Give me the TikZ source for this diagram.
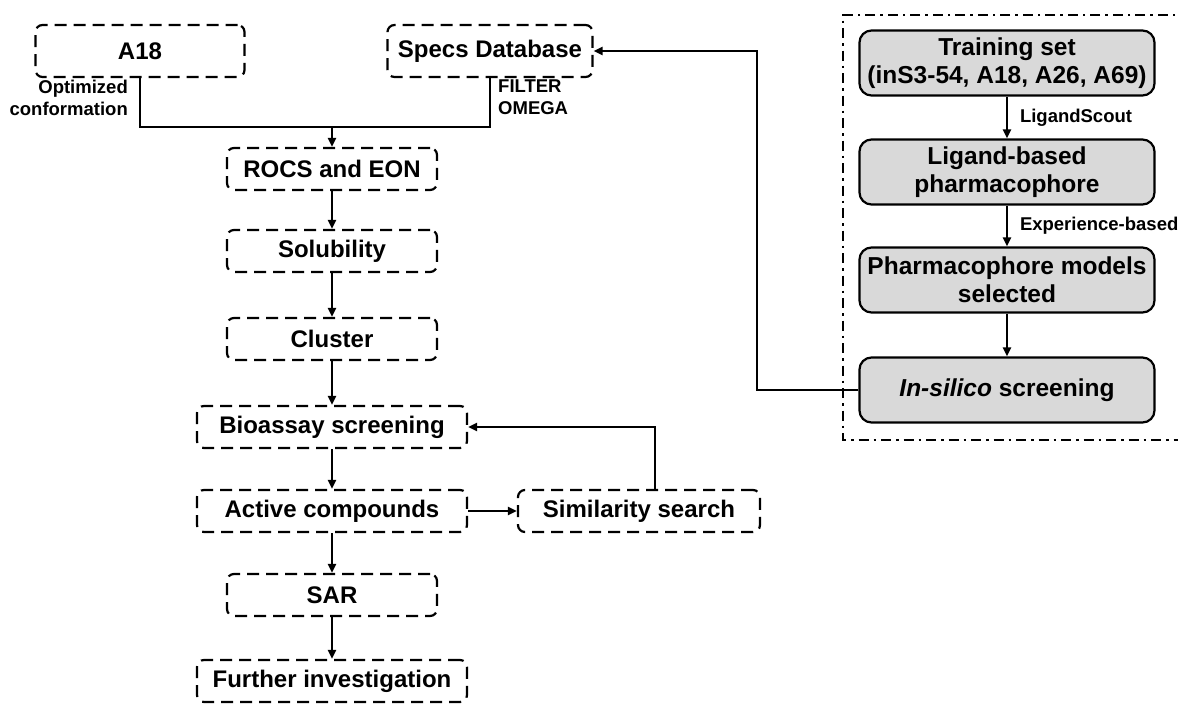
\documentclass[tikz,border=0pt]{standalone}
\usepackage{fontspec}
\setmainfont{Liberation Sans}
\usetikzlibrary{arrows.meta, positioning}

\begin{document}
\begin{tikzpicture}[
    x=1pt, y=-1pt,
    dbox/.style={draw, dash pattern=on 12pt off 7pt, line width=2.2pt, rounded corners=7pt, minimum height=42pt, inner sep=2pt, font=\fontsize{24}{28}\selectfont\bfseries},
    gbox/.style={draw, fill=gray!30, line width=2.2pt, rounded corners=12pt, minimum width=295pt, minimum height=65pt, align=center, inner sep=2pt, font=\fontsize{24.5}{28}\selectfont\bfseries},
    note/.style={inner sep=0pt, font=\fontsize{18.5}{22}\selectfont\bfseries},
    link/.style={line width=2pt},
    arr/.style={link, -{Triangle[length=9pt, width=8pt]}}
]
\clip (0,0) rectangle (1178,704);

% Left column
\node[dbox, minimum width=209pt, minimum height=52pt] (A18) at (140,51) {A18};
\node[dbox, minimum width=205pt, minimum height=52pt] (Specs) at (490,51) {Specs Database};
\node[dbox, minimum width=210pt] (ROCS) at (332,169) {ROCS and EON};
\node[dbox, minimum width=210pt] (Sol) at (332,251) {Solubility};
\node[dbox, minimum width=210pt] (Clu) at (332,339) {Cluster};
\node[dbox, minimum width=270pt] (Bio) at (332,427) {Bioassay screening};
\node[dbox, minimum width=270pt] (Act) at (332,511) {Active compounds};
\node[dbox, minimum width=242pt] (Sim) at (639,511) {Similarity search};
\node[dbox, minimum width=210pt] (SAR) at (332,595) {SAR};
\node[dbox, minimum width=270pt] (Fur) at (332,681) {Further investigation};

% Notes
\node[note, anchor=north east, align=right] (Opt) at (128,80) {Optimized\\conformation};
\node[note, anchor=north west, align=left] (Fil) at (498,80) {FILTER\\OMEGA};

% Right panel
\draw[line width=2pt, dash pattern=on 10pt off 5pt on 2.5pt off 5pt] (1190,15) -- (843,15) -- (843,440) -- (1190,440);
\node[gbox] (Train) at (1007,63) {Training set\\(inS3-54, A18, A26, A69)};
\node[gbox] (Lig) at (1007,172) {Ligand-based\\pharmacophore};
\node[gbox] (Mod) at (1007,280) {Pharmacophore models\\selected};
\node[gbox] (Scr) at (1007,390) {\textit{In-silico} screening};

% Links
\coordinate (J) at (332,127);
\draw[link] (A18.south) |- (J) -| (Specs.south);
\draw[arr] (J) -- (ROCS);
\draw[arr] (ROCS) -- (Sol);
\draw[arr] (Sol) -- (Clu);
\draw[arr] (Clu) -- (Bio);
\draw[arr] (Bio) -- (Act);
\draw[arr] (Act) -- (Sim);
\draw[arr] (Act) -- (SAR);
\draw[arr] (SAR) -- (Fur);
\draw[arr] ([xshift=16pt]Sim.north) |- (Bio.east);

\draw[arr] (Train) -- node[note, right=12pt] {LigandScout} (Lig);
\draw[arr] (Lig) -- node[note, right=12pt] {Experience-based} (Mod);
\draw[arr] (Mod) -- (Scr);
\coordinate (K) at (757,390);
\draw[arr] (Scr.west) -- (K) |- (Specs.east);

\end{tikzpicture}
\end{document}
